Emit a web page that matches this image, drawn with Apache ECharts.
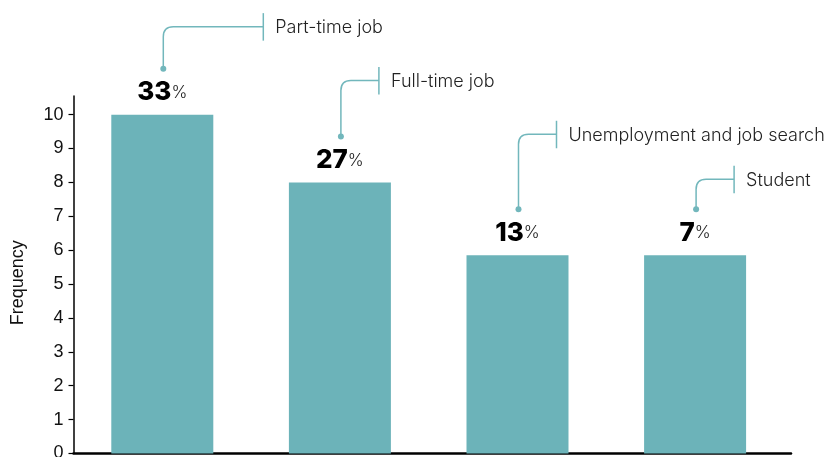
<!DOCTYPE html>
<html>
<head>
<meta charset="utf-8">
<script src="https://cdn.jsdelivr.net/npm/echarts@6/dist/echarts.min.js"></script>
<style>
  html, body { margin: 0; padding: 0; background: #fff; }
  #chart { width: 831px; height: 457px; }
</style>
</head>
<body>
<div id="chart"></div>
<script>
// Reasons reported, how often each came up, and each one's share
const categories = ['Part-time job', 'Full-time job', 'Unemployment and job search', 'Student'];
const frequency = [10, 8, 5.85, 5.85];
const shares = [33, 27, 13, 7];
const yTicks = [0, 1, 2, 3, 4, 5, 6, 7, 8, 9, 10];

// Callout geometry in pixels: how far the elbow rises above the dot, and how far it runs right
const calloutRise = [42, 56, 75, 30];
const calloutRun = [100, 38, 38, 38];

const TEAL = '#6cb3b9';
const LINE = '#72b7bc';
const INK = '#111';

const chart = echarts.init(document.getElementById('chart'));

const barData = frequency.map((v, i) => [i, v]);

function renderCallout(params, api) {
  const i = params.dataIndex;
  const top = api.coord([api.value(0), api.value(1)]);
  const cx = top[0] + 1;
  const barTop = top[1];
  const dotY = barTop - 46;
  const elbowY = dotY - calloutRise[i];
  const endX = cx + calloutRun[i];
  const r = 10;
  return {
    type: 'group',
    children: [
      {
        type: 'text',
        style: {
          x: top[0],
          y: barTop - 9,
          align: 'center',
          verticalAlign: 'bottom',
          text: '{n|' + shares[i] + '}{p|%}',
          rich: {
            n: { fontFamily: 'Inter', fontWeight: 800, fontSize: 26, fill: '#000', letterSpacing: -1 },
            p: { fontFamily: 'Inter', fontWeight: 300, fontSize: 17, fill: '#222' }
          }
        }
      },
      {
        type: 'circle',
        shape: { cx: cx, cy: dotY, r: 3 },
        style: { fill: LINE }
      },
      {
        type: 'path',
        shape: {
          pathData: 'M' + cx + ' ' + dotY +
            ' L' + cx + ' ' + (elbowY + r) +
            ' Q' + cx + ' ' + elbowY + ' ' + (cx + r) + ' ' + elbowY +
            ' L' + endX + ' ' + elbowY
        },
        style: { fill: null, stroke: LINE, lineWidth: 1.5 }
      },
      {
        type: 'line',
        shape: { x1: endX, y1: elbowY - 13.5, x2: endX, y2: elbowY + 14 },
        style: { stroke: LINE, lineWidth: 1.5 }
      },
      {
        type: 'text',
        style: {
          x: endX + 12,
          y: elbowY + 1,
          align: 'left',
          verticalAlign: 'middle',
          text: categories[i],
          fontFamily: 'Inter',
          fontWeight: 300,
          fontSize: 18,
          fill: '#222'
        }
      }
    ]
  };
}

chart.setOption({
  animation: false,
  backgroundColor: '#fff',
  grid: { left: 73.5, right: 40, top: 96, bottom: 3.5, outerBoundsMode: 'none', containLabel: false },
  xAxis: {
    type: 'value',
    min: -0.5,
    max: 3.54,
    axisLine: { show: true, onZero: false, lineStyle: { color: '#000', width: 2.5 } },
    axisTick: { show: false },
    axisLabel: { show: false },
    splitLine: { show: false }
  },
  yAxis: {
    type: 'value',
    min: 0,
    max: 10.55,
    name: 'Frequency',
    nameLocation: 'middle',
    nameGap: 46,
    nameRotate: 90,
    nameTextStyle: {
      fontFamily: 'Liberation Sans',
      fontSize: 18,
      color: INK,
      padding: [0, 0, 0, -16]
    },
    axisLine: { show: true, onZero: false, lineStyle: { color: '#000', width: 1.5 } },
    axisTick: { show: true, length: 5, customValues: yTicks, lineStyle: { color: '#000', width: 1.2 } },
    axisLabel: {
      customValues: yTicks,
      margin: 10,
      fontFamily: 'Liberation Sans',
      fontSize: 18,
      color: INK
    },
    splitLine: { show: false }
  },
  series: [
    {
      type: 'bar',
      data: barData,
      barWidth: 102,
      itemStyle: { color: TEAL },
      z: 2
    },
    {
      type: 'custom',
      data: barData,
      renderItem: renderCallout,
      clip: false,
      z: 3
    }
  ]
});
</script>
</body>
</html>
